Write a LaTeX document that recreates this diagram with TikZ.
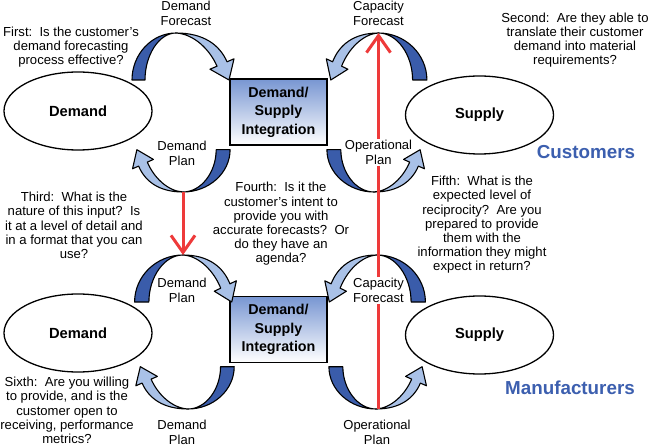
\documentclass[tikz,border=0pt]{standalone}
\usepackage{fontspec}
\setmainfont{Liberation Sans}
\usetikzlibrary{arrows.meta,shapes.geometric}
\definecolor{darkb}{HTML}{3A5CAA}
\definecolor{lightb}{HTML}{A9C1E7}
\definecolor{boxtop}{HTML}{7896D2}
\definecolor{titleb}{HTML}{3C5FAF}
\definecolor{redl}{HTML}{EE3A3A}
\tikzset{
  darkpart/.style={fill=darkb, draw=black, line width=1.1pt, line join=round},
  lightpart/.style={fill=lightb, draw=black, line width=1.1pt, line join=round},
  ell/.style={ellipse, draw=black, line width=1.3pt, minimum width=148pt, minimum height=78pt, inner sep=0pt, font=\fontsize{14.7}{17}\selectfont\bfseries},
  dsbox/.style={rectangle, draw=black, line width=1.6pt, minimum width=97pt, minimum height=66pt, top color=boxtop, bottom color=white, align=center, inner sep=0pt, font=\fontsize{14.3}{18.5}\selectfont\bfseries},
  teamlabel/.style={text=titleb, inner sep=0pt, font=\fontsize{18.8}{22}\selectfont\bfseries},
  arrlabel/.style={align=center, inner sep=1pt, font=\fontsize{13}{15}\selectfont},
  qtext/.style={align=center, inner sep=0pt, font=\fontsize{13.1}{14.2}\selectfont},
  redline/.style={draw=redl, line width=3pt},
  redtip/.style={-{Straight Barb[length=17pt,width=24pt]}}
}
% ribbon arrow: apex at origin, foot to the left, head to the right (y down)
\newcommand\ribbonshape[2]{%
  \begin{scope}[xscale=#1]
    \filldraw[darkpart] (-44,47) .. controls (-44,21) and (-24,0) .. (0,0) .. controls (-17,0) and (-31,22) .. (-31,47) -- cycle;
  \end{scope}
  \begin{scope}[xscale=#2]
    \filldraw[lightpart] (0,0) .. controls (28,0) and (43.8,12.2) .. (51,28.8) -- (58,25.8) -- (53,47) -- (34,36.2) -- (41,33.2) .. controls (33.8,16.6) and (18,1) .. (0,0) -- cycle;
  \end{scope}}
\begin{document}
\begin{tikzpicture}[x=1pt,y=-1pt]
\useasboundingbox (0,0) rectangle (650,446);
\fill[white] (0,0) rectangle (650,446);

% ---------- upper module (Customers) ----------
\node[ell] (ud) at (78,111) {Demand};
\node[ell] (us) at (479.5,115) {Supply};
\node[dsbox] (ub) at (278.5,112) {Demand/\\Supply\\Integration};
\node[teamlabel] (cust) at (586,152) {Customers};

\coordinate (uTLa) at (176,33);
\coordinate (uTRa) at (378.5,33);
\coordinate (uBLa) at (183,192);
\coordinate (uBRa) at (374,192);

\begin{scope}[shift={(uTLa)}]\ribbonshape{1}{1}\end{scope}
\begin{scope}[shift={(uTRa)},xscale=-1]\ribbonshape{1.1}{0.9}\end{scope}
\begin{scope}[shift={(uBLa)},xscale=-1,yscale=-0.9]\ribbonshape{1.07}{0.87}\end{scope}
\begin{scope}[shift={(uBRa)},yscale=-0.9]\ribbonshape{1.07}{0.87}\end{scope}

\node[arrlabel] (uDF) at (186,13.5) {Demand\\Forecast};
\node[arrlabel] (uCF) at (378.5,13.5) {Capacity\\Forecast};
\node[arrlabel] (uDP) at (182,153) {Demand\\Plan};
\node[arrlabel] (uOP) at (378.5,152.5) {Operational\\Plan};

% ---------- lower module (Manufacturers) ----------
\node[ell] (ld) at (78,333) {Demand};
\node[ell] (ls) at (479.5,335) {Supply};
\node[dsbox] (lb) at (278.5,329.5) {Demand/\\Supply\\Integration};
\node[teamlabel] (manu) at (570,388) {Manufacturers};

\coordinate (lTLa) at (183,255);
\coordinate (lTRa) at (377,255);
\coordinate (lBLa) at (188,409);
\coordinate (lBRa) at (378.5,409);

\begin{scope}[shift={(lTLa)}]\ribbonshape{1.1}{0.92}\end{scope}
\begin{scope}[shift={(lTRa)},xscale=-1]\ribbonshape{1.1}{0.9}\end{scope}
\begin{scope}[shift={(lBLa)},xscale=-1,yscale=-0.9]\ribbonshape{1.05}{0.9}\end{scope}
\begin{scope}[shift={(376,409)},yscale=-0.9]\ribbonshape{1.07}{0.87}\end{scope}

\node[arrlabel] (lDP1) at (182,290.5) {Demand\\Plan};
\node[arrlabel] (lCF) at (378.5,290.5) {Capacity\\Forecast};
\node[arrlabel] (lDP2) at (182,432) {Demand\\Plan};
\node[arrlabel] (lOP) at (377,432) {Operational\\Plan};

% ---------- red connectors ----------
\draw[redline,redtip] (uBLa) -- (lTLa);
\draw[redline] (lBRa) -- (lCF.south);
\draw[redline] (lCF.north) -- (uOP.south);
\draw[redline,redtip] (uOP.north) -- (uTRa);

% ---------- questions ----------
\node[qtext] (q1) at (71,47) {First:\ \ Is the customer's\\demand forecasting\\process effective?};
\node[qtext] (q2) at (575,40) {Second:\ \ Are they able to\\translate their customer\\demand into material\\requirements?};
\node[qtext] (q3) at (74,225.5) {Third:\ \ What is the\\nature of this input?\ \ Is\\it at a level of detail and\\in a format that you can\\use?};
\node[qtext] (q4) at (281,224) {Fourth:\ \ Is it the\\customer's intent to\\provide you with\\accurate forecasts?\ \ Or\\do they have an\\agenda?};
\node[qtext] (q5) at (482,225) {Fifth:\ \ What is the\\expected level of\\reciprocity?\ \ Are you\\prepared to provide\\them with the\\information they might\\expect in return?};
\node[qtext] (q6) at (67,410.5) {Sixth:\ \ Are you willing\\to provide, and is the\\customer open to\\receiving, performance\\metrics?};
\end{tikzpicture}
\end{document}
